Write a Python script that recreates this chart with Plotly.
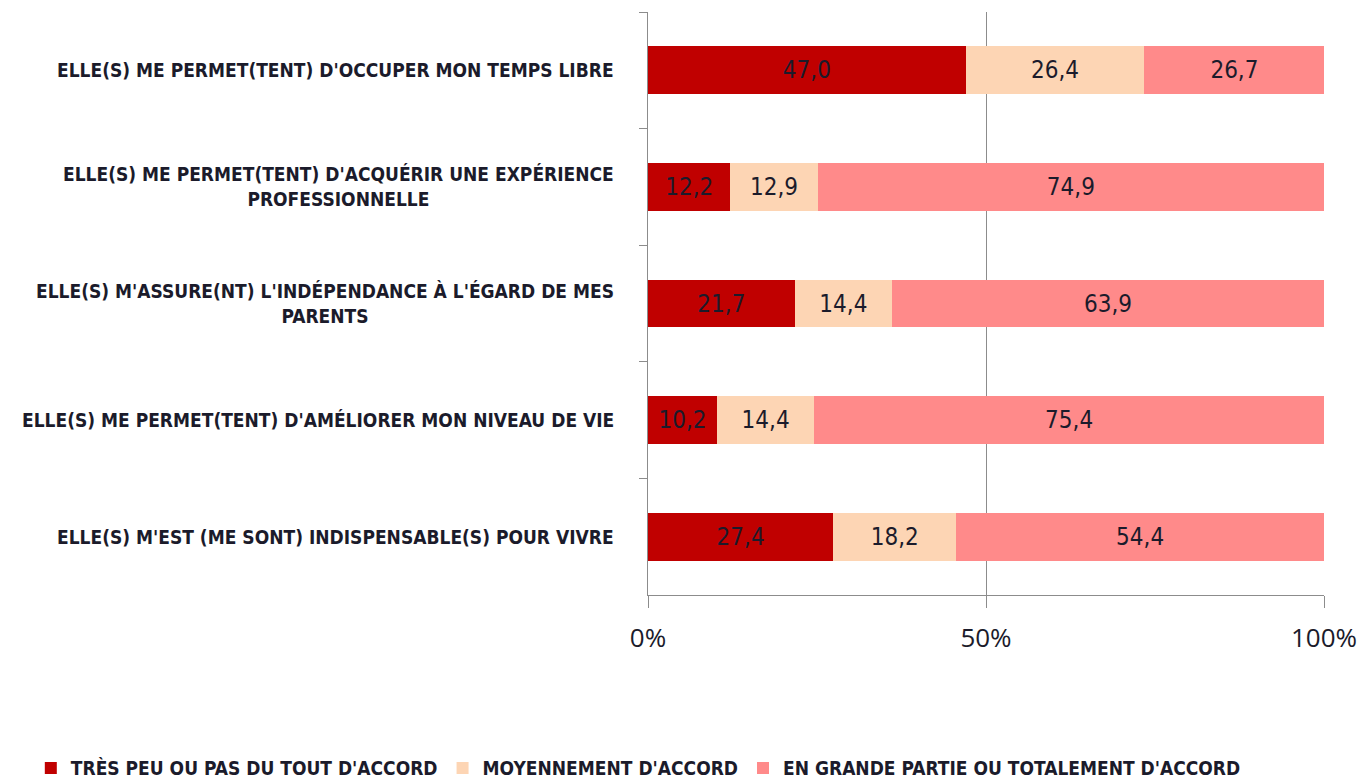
import plotly.graph_objects as go

categories = [
    "ELLE(S) ME PERMET(TENT) D'OCCUPER MON TEMPS LIBRE",
    "ELLE(S) ME PERMET(TENT) D'ACQUÉRIR UNE EXPÉRIENCE<br>PROFESSIONNELLE",
    "ELLE(S) M'ASSURE(NT) L'INDÉPENDANCE À L'ÉGARD DE MES<br>PARENTS",
    "ELLE(S) ME PERMET(TENT) D'AMÉLIORER MON NIVEAU DE VIE",
    "ELLE(S) M'EST (ME SONT) INDISPENSABLE(S) POUR VIVRE",
]
series_names = [
    "TRÈS PEU OU PAS DU TOUT D'ACCORD",
    "MOYENNEMENT D'ACCORD",
    "EN GRANDE PARTIE OU TOTALEMENT D'ACCORD",
]
peu = [47.0, 12.2, 21.7, 10.2, 27.4]
moyen = [26.4, 12.9, 14.4, 14.4, 18.2]
grande = [26.7, 74.9, 63.9, 75.4, 54.4]
colors = ["#C00000", "#FDD5B4", "#FF8A8A"]

x_ticks = [0, 50, 100]
x_ticktext = ["0%", "50%", "100%"]

COND = "DejaVu Sans Condensed, DejaVu Sans, sans-serif"
TXT = "#1B1B2B"

fig = go.Figure()
for name, vals, col in zip(series_names, [peu, moyen, grande], colors):
    fig.add_trace(go.Bar(
        y=categories, x=vals, name=name, orientation="h",
        marker=dict(color=col, line=dict(width=0)),
        text=[f"{v:.1f}".replace(".", ",") for v in vals],
        textposition="inside", insidetextanchor="middle",
        textfont=dict(family=COND, size=24, color=TXT),
        constraintext="none",
    ))

for c in categories:
    fig.add_annotation(
        x=0, xref="paper", y=c, yref="y", text=c, showarrow=False,
        xanchor="right", yanchor="middle", align="center", xshift=-32,
        font=dict(family=COND, size=19, color=TXT, weight="bold"),
    )

fig.update_layout(
    barmode="stack", bargap=0.59,
    width=1360, height=773,
    margin=dict(l=640, r=44, t=4, b=186, autoexpand=False),
    plot_bgcolor="white", paper_bgcolor="white",
    showlegend=True,
    legend=dict(orientation="h", x=-0.913, xanchor="left", y=-0.297, yanchor="middle",
                traceorder="normal",
                font=dict(family=COND, size=19, color=TXT, weight="bold"),
                itemwidth=30),
)
fig.update_xaxes(
    range=[0, 100], tickvals=x_ticks, ticktext=x_ticktext,
    showgrid=True, gridcolor="#8C8C8C", gridwidth=1, zeroline=False,
    showline=True, linecolor="#8C8C8C", linewidth=1,
    ticks="outside", ticklen=12, tickcolor="#8C8C8C",
    tickfont=dict(family="Open Sans", size=26, color=TXT),
    ticklabelstandoff=8,
)
fig.update_yaxes(
    autorange="reversed", showticklabels=False,
    showline=True, linecolor="#8C8C8C", linewidth=1,
    ticks="outside", ticklen=8, tickcolor="#8C8C8C", tickson="boundaries",
    showgrid=False, zeroline=False,
)

fig.write_html("out.html")
